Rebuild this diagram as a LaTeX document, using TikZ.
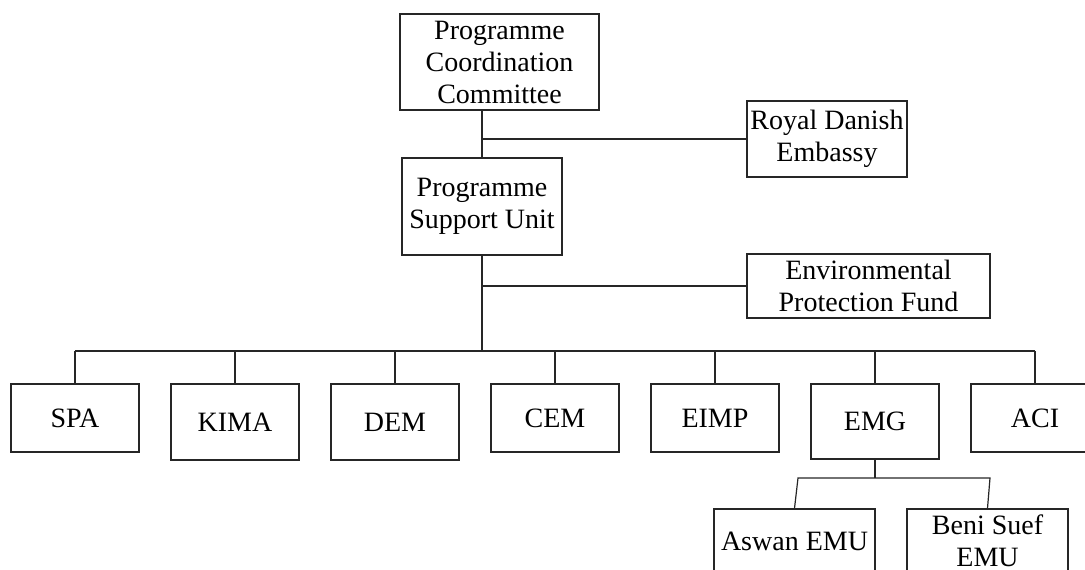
\documentclass[tikz,border=0pt]{standalone}
\usepackage{fontspec}
\setmainfont{Liberation Serif}
\usepackage{tikz}
\usetikzlibrary{positioning,calc}

\tikzset{
  unit/.style={draw=black!85,line width=1.2pt,align=center,inner sep=0pt,
    font=\fontsize{28}{32}\selectfont},
  link/.style={draw=black!85,line width=1.2pt}
}

\begin{document}
\begin{tikzpicture}[x=1pt,y=-1pt]
  \clip (0,0) rectangle (1085,570);

  % top levels
  \node[unit,minimum width=199,minimum height=96] (pcc) at (499.5,62)
    {Programme\\Coordination\\Committee};
  \node[unit,minimum width=160,minimum height=76] (rde) at (827,139)
    {Royal Danish\\Embassy};
  \node[unit,minimum width=160,minimum height=97] (psu) at (482,206.5)
    {Programme\\Support Unit};
  \node[unit,minimum width=243,minimum height=64] (epf) at (868.5,286)
    {Environmental\\Protection Fund};

  % departments
  \node[unit,minimum width=128,minimum height=68] (spa)  at (75,418)    {SPA};
  \node[unit,minimum width=128,minimum height=76] (kima) at (235,422)   {KIMA};
  \node[unit,minimum width=128,minimum height=76] (dem)  at (395,422)   {DEM};
  \node[unit,minimum width=128,minimum height=68] (cem)  at (555,418)   {CEM};
  \node[unit,minimum width=128,minimum height=68] (eimp) at (715,418)   {EIMP};
  \node[unit,minimum width=128,minimum height=75] (emg)  at (875,421.5) {EMG};
  \node[unit,minimum width=128,minimum height=68] (aci)  at (1035,418)  {ACI};

  % EMG units
  \node[unit,minimum width=161,minimum height=64] (aswan) at (794.5,541)
    {Aswan EMU};
  \node[unit,minimum width=161,minimum height=64] (beni) at (987.5,541)
    {Beni Suef\\EMU};

  % connectors
  \draw[link] (pcc.south -| psu.north) -- (psu.north);
  \draw[link] (psu.north |- rde.west) -- (rde.west);
  \coordinate (bus) at (psu.south |- 0,351);
  \draw[link] (psu.south) -- (bus);
  \draw[link] (psu.south |- epf.west) -- (epf.west);
  \draw[link] (spa.north |- bus) -- (aci.north |- bus);
  \foreach \n in {spa,kima,dem,cem,eimp,emg,aci}
    \draw[link] (\n.north |- bus) -- (\n.north);

  \coordinate (emgbus) at (emg.south |- 0,478);
  \coordinate (emgL) at (798,478);
  \coordinate (emgR) at (990,478);
  \draw[link] (emg.south) -- (emgbus);
  \draw[link] (aswan.north) -- (emgL) -- (emgR) -- (beni.north);
\end{tikzpicture}
\end{document}
